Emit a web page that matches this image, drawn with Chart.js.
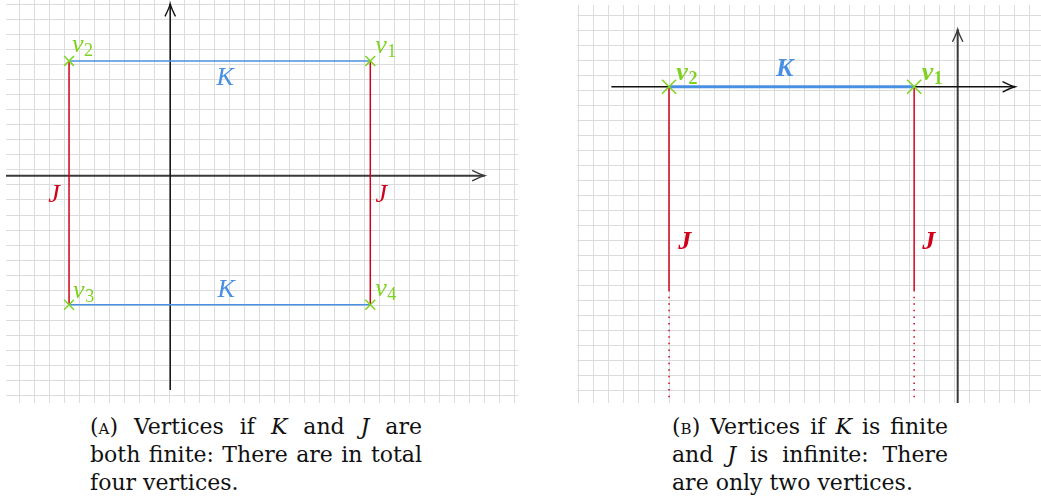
<!DOCTYPE html>
<html>
<head>
<meta charset="utf-8">
<script src="https://cdn.jsdelivr.net/npm/chart.js@4.4.1/dist/chart.umd.min.js"></script>
<style>
  body { margin: 0; width: 1041px; height: 504px; background: #fff; position: relative; overflow: hidden; }
  #boxA { position: absolute; left: 6px; top: 0; width: 512px; height: 403px; }
  #boxB { position: absolute; left: 577px; top: 5px; width: 464px; height: 398px; }
  .cap { position: absolute; font-family: 'DejaVu Serif', serif; font-size: 22px; line-height: 28px; color: #111; }
  .cap .j { text-align: justify; text-align-last: justify; }
  .sc { font-variant: small-caps; }
</style>
</head>
<body>
<div id="boxA"><canvas id="chartA" width="512" height="403"></canvas></div>
<div id="boxB"><canvas id="chartB" width="464" height="398"></canvas></div>

<div class="cap" style="left:90px; top:413px; width:332px;">
  <div class="j">(<span class="sc">a</span>) Vertices if <i>K</i> and <i>J</i> are</div>
  <div class="j">both finite: There are in total</div>
  <div>four vertices.</div>
</div>
<div class="cap" style="left:672px; top:413px; width:276px;">
  <div class="j">(<span class="sc">b</span>) Vertices if <i>K</i> is finite</div>
  <div class="j">and <i>J</i> is infinite: There</div>
  <div>are only two vertices.</div>
</div>

<script>
// unit = one grid square
const GREEN = '#7ED321';
const BLUE = '#4A90E2';
const RED = '#D0021B';
const GRID = '#dcdcdc';

// ---- panel A: K and J finite ----
const rangeA = { xmin: -10.89, xmax: 23.22, ymin: -15.53, ymax: 11.33 };
const vertAX = [13.38, -6.69, -6.69, 13.38];
const vertAY = [7.27, 7.27, -8.98, -8.98];
const edgesAK = [[1, 0], [2, 3]];
const edgesAJ = [[1, 2], [0, 3]];
const xAxisA = { from: -10.89, to: 21.0, at: -0.38 };
const yAxisA = { from: -14.67, to: 11.07, at: 0.05 };
const labTextA = ['v', 'v', 'v', 'v', 'K', 'K', 'J', 'J'];
const labSubA = ['1', '2', '3', '4', '', '', '', ''];
const labXA = [13.71, -6.49, -6.42, 13.71, 3.71, 3.77, -7.69, 14.11];
const labYA = [7.8, 7.87, -8.5, -8.4, 6.13, -8.0, -1.67, -1.67];

// ---- panel B: K finite, J infinite ----
const rangeB = { xmin: -6.13, xmax: 24.78, ymin: -20.83, ymax: 5.7 };
const vertBX = [16.33, 0];
const vertBY = [0.25, 0.25];
const edgesBK = [[1, 0]];
const jSolidEnd = -13.3;
const jDotEnd = -20.63;
const xAxisB = { from: -3.84, to: 23.05, at: 0.25 };
const yAxisB = { from: -21, to: 4.08, at: 19.23 };
const labTextB = ['v', 'v', 'K', 'J', 'J'];
const labSubB = ['1', '2', '', '', ''];
const labXB = [16.83, 0.49, 7.71, 1.05, 17.31];
const labYB = [0.7, 0.7, 1.43, -10.1, -10.1];

function seg(x1, y1, x2, y2) {
  return [{ x: x1, y: y1 }, { x: x2, y: y2 }];
}

function lineDs(data, color, width, extra) {
  return Object.assign({
    data, borderColor: color, backgroundColor: color, borderWidth: width,
    showLine: true, pointRadius: 0, pointHoverRadius: 0, fill: false, tension: 0
  }, extra || {});
}

const overlay = {
  id: 'overlay',
  afterDatasetsDraw(chart, args, opts) {
    const { ctx, scales: { x, y } } = chart;
    ctx.save();
    // arrow tips on axes
    chart.data.datasets.forEach(ds => {
      if (!ds.arrow) return;
      const a = ds.data[0], b = ds.data[1];
      const x0 = x.getPixelForValue(a.x), y0 = y.getPixelForValue(a.y);
      const x1 = x.getPixelForValue(b.x), y1 = y.getPixelForValue(b.y);
      const len = Math.hypot(x1 - x0, y1 - y0);
      const dx = (x1 - x0) / len, dy = (y1 - y0) / len;
      const L = 12, W = 5;
      ctx.strokeStyle = ds.borderColor;
      ctx.lineWidth = 1.4;
      ctx.lineCap = 'round';
      ctx.beginPath();
      ctx.moveTo(x1 - dx * L - dy * W, y1 - dy * L + dx * W);
      ctx.quadraticCurveTo(x1 - dx * 4 - dy * 1, y1 - dy * 4 + dx * 1, x1, y1);
      ctx.quadraticCurveTo(x1 - dx * 4 + dy * 1, y1 - dy * 4 - dx * 1, x1 - dx * L + dy * W, y1 - dy * L - dx * W);
      ctx.stroke();
    });
    // labels
    const L = opts.labels;
    L.text.forEach((t, i) => {
      const px = x.getPixelForValue(L.xs[i]);
      const py = y.getPixelForValue(L.ys[i]);
      const sub = L.subs[i];
      const col = sub ? GREEN : (t === 'K' ? BLUE : RED);
      ctx.fillStyle = col;
      ctx.font = L.mainFont;
      if (sub) {
        ctx.textAlign = 'left';
        ctx.textBaseline = 'alphabetic';
        ctx.fillText(t, px, py);
        const w = ctx.measureText(t).width;
        ctx.font = L.subFont;
        ctx.fillText(sub, px + w + 0.5, py + L.subDrop);
      } else {
        ctx.textAlign = 'center';
        ctx.textBaseline = 'middle';
        ctx.fillText(t, px, py);
      }
    });
    ctx.restore();
  }
};

// one grid line per unit
function unitTicks(scale) {
  const t = [];
  for (let v = Math.ceil(scale.min); v <= scale.max; v++) t.push({ value: v });
  scale.ticks = t;
}

function baseOptions(range, labels) {
  const axis = (min, max) => ({
    type: 'linear', min, max,
    afterBuildTicks: unitTicks,
    ticks: { display: false, autoSkip: false },
    grid: { color: GRID, lineWidth: 1, drawTicks: false },
    border: { display: false }
  });
  return {
    responsive: false,
    animation: false,
    events: [],
    layout: { padding: 0, autoPadding: false },
    plugins: { legend: { display: false }, tooltip: { enabled: false }, overlay: { labels } },
    scales: { x: axis(range.xmin, range.xmax), y: axis(range.ymin, range.ymax) }
  };
}

// ---- build panel A ----
const dsA = [];
dsA.push(lineDs(vertAX.map((v, i) => ({ x: v, y: vertAY[i] })), GREEN, 1.5,
  { showLine: false, pointStyle: 'crossRot', pointRadius: 7, pointBorderWidth: 1.5 }));
edgesAK.forEach(([i, j]) => dsA.push(lineDs(seg(vertAX[i], vertAY[i], vertAX[j], vertAY[j]), BLUE, 1.5)));
edgesAJ.forEach(([i, j]) => dsA.push(lineDs(seg(vertAX[i], vertAY[i], vertAX[j], vertAY[j]), RED, 1.5)));
dsA.push(lineDs(seg(yAxisA.at, yAxisA.from, yAxisA.at, yAxisA.to), '#111', 1.5, { arrow: true }));
dsA.push(lineDs(seg(xAxisA.from, xAxisA.at, xAxisA.to, xAxisA.at), '#3a3a3a', 2, { arrow: true }));

new Chart(document.getElementById('chartA'), {
  type: 'scatter',
  data: { datasets: dsA },
  options: baseOptions(rangeA, {
    text: labTextA, subs: labSubA, xs: labXA, ys: labYA,
    mainFont: 'italic 26px "Liberation Serif"', subFont: '18px "Liberation Serif"', subDrop: 4
  }),
  plugins: [overlay]
});

// ---- build panel B ----
const dsB = [];
dsB.push(lineDs(vertBX.map((v, i) => ({ x: v, y: vertBY[i] })), GREEN, 1.5,
  { showLine: false, pointStyle: 'crossRot', pointRadius: 10, pointBorderWidth: 1.5 }));
edgesBK.forEach(([i, j]) => dsB.push(lineDs(seg(vertBX[i], vertBY[i], vertBX[j], vertBY[j]), BLUE, 3)));
vertBX.forEach((vx, i) => {
  dsB.push(lineDs(seg(vx, vertBY[i], vx, jSolidEnd), RED, 1.5));
  dsB.push(lineDs(seg(vx, jSolidEnd, vx, jDotEnd), RED, 1.5, { borderDash: [1.5, 5.1] }));
});
dsB.push(lineDs(seg(xAxisB.from, xAxisB.at, xAxisB.to, xAxisB.at), '#111', 1.5, { arrow: true }));
dsB.push(lineDs(seg(yAxisB.at, yAxisB.from, yAxisB.at, yAxisB.to), '#3a3a3a', 2, { arrow: true }));

new Chart(document.getElementById('chartB'), {
  type: 'scatter',
  data: { datasets: dsB },
  options: baseOptions(rangeB, {
    text: labTextB, subs: labSubB, xs: labXB, ys: labYB,
    mainFont: 'bold italic 26px "Liberation Serif"', subFont: 'bold 18px "Liberation Serif"', subDrop: 4
  }),
  plugins: [overlay]
});
</script>
</body>
</html>
